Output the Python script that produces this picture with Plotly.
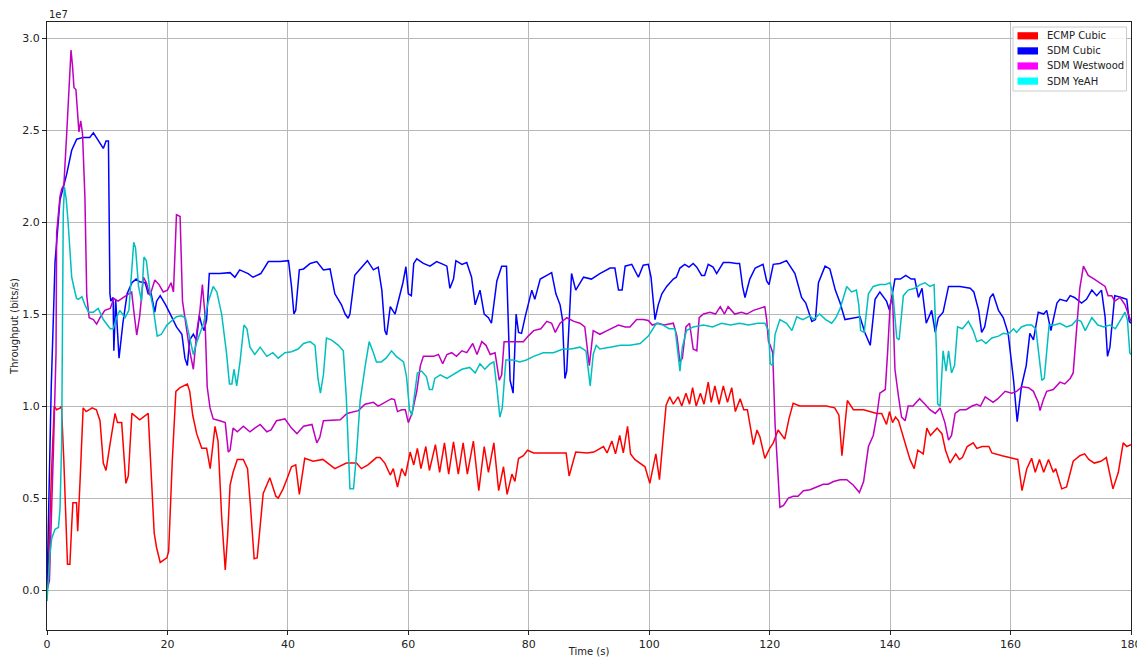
import plotly.graph_objects as go

# Throughput samples: (time in s, throughput in units of 1e7 bits/s)
ecmp_cubic = [
    (0, 0.0), (0.2, 0.07), (0.7, 0.6), (1.2, 1.0), (1.6, 0.98), (2.2, 0.99), (2.4, 1.0), (2.8, 0.7),
    (3.4, 0.14), (3.8, 0.14), (4.1, 0.35), (4.3, 0.475), (4.9, 0.475), (5.1, 0.32), (5.5, 0.6),
    (6.0, 0.99), (6.5, 0.97), (7.5, 0.99), (8.2, 0.98), (8.8, 0.92), (9.35, 0.69), (9.8, 0.65),
    (10.5, 0.8), (11.3, 0.96), (11.7, 0.91), (12.4, 0.91), (13.1, 0.58), (13.5, 0.62), (14.1, 0.96),
    (15.4, 0.925), (16.8, 0.96), (17.3, 0.6), (17.8, 0.31), (18.2, 0.23), (18.8, 0.15), (19.9, 0.175),
    (20.2, 0.21), (20.8, 0.7), (21.4, 1.08), (22.1, 1.1), (23.3, 1.12), (23.7, 1.08), (24.2, 0.95),
    (24.85, 0.85), (25.7, 0.77), (26.5, 0.77), (27.1, 0.66), (27.9, 0.89), (28.4, 0.81), (29.0, 0.4),
    (29.6, 0.11), (30.0, 0.3), (30.4, 0.57), (30.9, 0.64), (31.6, 0.71), (32.6, 0.71), (33.3, 0.66),
    (33.8, 0.45), (34.4, 0.17), (34.9, 0.175), (35.4, 0.35), (35.9, 0.525), (37.0, 0.61), (38.0, 0.51),
    (38.4, 0.50), (39.2, 0.55), (39.8, 0.6), (40.6, 0.67), (41.3, 0.68), (41.9, 0.52), (42.8, 0.716),
    (44.2, 0.70), (45.8, 0.71), (47.8, 0.66), (49.7, 0.69), (51.4, 0.69), (52.2, 0.66), (53.3, 0.68),
    (54.7, 0.72), (55.3, 0.72), (56.1, 0.69), (57.0, 0.625), (57.5, 0.66), (58.2, 0.56), (58.9, 0.66),
    (59.5, 0.62), (60.3, 0.75), (60.9, 0.68), (61.5, 0.77), (62.1, 0.66), (62.9, 0.78), (63.5, 0.65),
    (64.5, 0.79), (65.2, 0.64), (66.0, 0.80), (66.7, 0.63), (67.5, 0.805), (68.3, 0.63), (69.1, 0.80),
    (69.8, 0.63), (70.8, 0.81), (71.7, 0.54), (72.6, 0.78), (73.3, 0.64), (74.2, 0.80), (75.0, 0.54),
    (75.8, 0.67), (76.4, 0.52), (77.2, 0.63), (77.7, 0.59), (78.3, 0.715), (79.1, 0.73), (79.8, 0.76),
    (80.8, 0.745), (83.0, 0.745), (86.2, 0.745), (86.7, 0.62), (87.8, 0.75), (89.7, 0.745), (90.8, 0.75),
    (92.4, 0.78), (93.0, 0.745), (93.8, 0.81), (94.4, 0.74), (95.1, 0.84), (95.7, 0.745), (96.4, 0.89),
    (96.9, 0.74), (97.6, 0.71), (98.4, 0.69), (99.3, 0.67), (100.1, 0.58), (101.1, 0.74), (101.7, 0.60),
    (102.8, 1.005), (103.4, 1.05), (104.0, 1.01), (104.8, 1.05), (105.4, 1.0), (106.1, 1.07), (106.7, 1.01),
    (107.2, 1.10), (107.8, 1.0), (108.5, 1.07), (109.1, 1.01), (109.8, 1.13), (110.3, 1.02), (110.9, 1.11),
    (111.6, 1.01), (112.3, 1.11), (113.0, 1.02), (113.7, 1.10), (114.3, 0.97), (115.1, 1.04), (115.7, 0.98),
    (116.3, 0.98), (117.3, 0.79), (117.9, 0.87), (118.4, 0.83), (119.2, 0.716), (120.0, 0.77), (120.6, 0.80),
    (121.4, 0.87), (122.5, 0.82), (123.2, 0.93), (123.9, 1.015), (125.0, 1.0), (127.2, 1.0), (129.4, 1.0),
    (130.8, 0.99), (131.5, 0.95), (132.0, 0.73), (132.9, 1.03), (133.9, 0.98), (135.6, 0.98), (137.8, 0.96),
    (138.6, 0.96), (139.4, 0.90), (139.9, 0.97), (140.4, 0.91), (140.9, 0.94), (141.4, 0.92), (142.5, 0.79),
    (143.3, 0.71), (144.0, 0.66), (144.6, 0.76), (145.5, 0.74), (146.1, 0.88), (146.7, 0.84), (147.8, 0.88),
    (148.6, 0.85), (149.2, 0.76), (149.95, 0.69), (150.9, 0.74), (151.5, 0.71), (152.0, 0.72), (152.8, 0.78),
    (153.8, 0.80), (154.4, 0.77), (155.3, 0.78), (156.4, 0.78), (156.9, 0.745), (158.6, 0.73), (160.7, 0.716),
    (161.2, 0.71), (161.9, 0.54), (162.7, 0.66), (163.5, 0.716), (164.1, 0.64), (164.8, 0.71), (165.5, 0.64),
    (166.3, 0.71), (167.1, 0.64), (167.5, 0.66), (168.5, 0.55), (169.3, 0.56), (170.4, 0.70), (171.5, 0.73),
    (172.3, 0.74), (173.0, 0.71), (173.9, 0.69), (175.0, 0.70), (175.9, 0.72), (177.0, 0.55), (177.9, 0.64),
    (178.7, 0.80), (179.3, 0.78), (180.0, 0.79),
]

sdm_cubic = [
    (0, 0.0), (0.3, 0.5), (0.7, 1.1), (1.05, 1.47), (1.33, 1.78), (2.16, 2.12), (3.27, 2.26), (4.1, 2.39),
    (4.93, 2.45), (6.0, 2.46), (7.1, 2.46), (7.7, 2.485), (8.2, 2.46), (8.8, 2.43), (9.35, 2.40), (9.8, 2.44),
    (10.2, 2.44), (10.45, 1.61), (10.6, 1.57), (10.98, 1.59), (11.1, 1.30), (11.4, 1.58), (11.96, 1.26),
    (12.6, 1.45), (13.3, 1.61), (14.1, 1.67), (14.8, 1.69), (15.4, 1.675), (16.3, 1.67), (16.8, 1.61),
    (17.3, 1.61), (17.9, 1.51), (18.2, 1.57), (18.8, 1.60), (19.7, 1.55), (20.7, 1.485), (21.5, 1.43),
    (22.4, 1.39), (22.9, 1.26), (23.3, 1.22), (23.7, 1.36), (24.3, 1.39), (24.8, 1.36), (25.3, 1.49),
    (25.7, 1.44), (26.1, 1.41), (26.5, 1.47), (26.95, 1.72), (28.7, 1.72), (30.4, 1.725), (31.2, 1.70),
    (32.0, 1.74), (33.4, 1.72), (34.2, 1.70), (35.5, 1.72), (36.75, 1.785), (38.7, 1.785), (40.1, 1.79),
    (40.6, 1.65), (41.0, 1.50), (41.3, 1.52), (41.9, 1.74), (42.6, 1.745), (43.7, 1.775), (44.8, 1.785),
    (45.9, 1.74), (47.0, 1.745), (47.8, 1.61), (48.9, 1.55), (49.5, 1.50), (50.0, 1.477), (50.3, 1.50),
    (51.1, 1.71), (52.0, 1.745), (53.2, 1.79), (54.2, 1.74), (55.0, 1.755), (55.6, 1.63), (56.1, 1.41),
    (56.4, 1.386), (57.0, 1.54), (57.8, 1.50), (58.6, 1.60), (59.1, 1.67), (59.6, 1.757), (60.0, 1.61),
    (60.5, 1.60), (60.9, 1.775), (61.4, 1.80), (62.5, 1.775), (63.6, 1.76), (64.7, 1.785), (65.8, 1.77),
    (66.4, 1.76), (66.9, 1.64), (67.5, 1.69), (67.9, 1.79), (68.9, 1.77), (69.7, 1.78), (70.5, 1.70),
    (71.1, 1.55), (71.9, 1.63), (72.6, 1.50), (73.3, 1.48), (73.8, 1.45), (74.7, 1.68), (75.5, 1.76),
    (76.3, 1.76), (76.7, 1.35), (76.9, 1.14), (77.4, 1.07), (77.9, 1.50), (78.3, 1.40), (78.8, 1.395),
    (79.4, 1.485), (79.9, 1.55), (80.5, 1.63), (81.0, 1.58), (81.9, 1.69), (83.0, 1.71), (83.8, 1.725),
    (84.5, 1.61), (85.2, 1.55), (85.6, 1.47), (86.0, 1.15), (86.3, 1.19), (87.1, 1.72), (87.8, 1.63),
    (88.5, 1.67), (89.1, 1.70), (90.4, 1.69), (91.8, 1.72), (93.5, 1.75), (94.3, 1.75), (94.9, 1.63),
    (95.5, 1.63), (96.0, 1.76), (97.1, 1.77), (98.2, 1.70), (99.0, 1.765), (99.85, 1.77), (100.3, 1.70),
    (100.96, 1.47), (101.5, 1.55), (102.1, 1.61), (102.9, 1.65), (104.0, 1.69), (104.5, 1.70), (105.1, 1.75),
    (105.9, 1.77), (106.6, 1.755), (107.3, 1.775), (107.9, 1.755), (108.7, 1.71), (109.2, 1.71), (109.8, 1.77),
    (110.6, 1.755), (111.2, 1.72), (112.3, 1.78), (113.4, 1.78), (114.5, 1.775), (115.0, 1.775), (115.5, 1.65),
    (115.9, 1.59), (116.7, 1.69), (117.6, 1.75), (118.9, 1.77), (119.5, 1.68), (119.9, 1.66), (120.6, 1.77),
    (121.7, 1.775), (122.8, 1.79), (124.2, 1.72), (125.3, 1.59), (126.0, 1.56), (127.0, 1.46), (127.6, 1.47),
    (128.1, 1.67), (129.2, 1.76), (130.0, 1.745), (130.9, 1.63), (131.7, 1.56), (132.5, 1.47), (133.9, 1.48),
    (135.0, 1.485), (135.8, 1.40), (136.7, 1.33), (137.5, 1.58), (138.3, 1.62), (139.4, 1.57), (139.9, 1.52),
    (140.8, 1.69), (141.7, 1.69), (142.6, 1.71), (143.5, 1.69), (144.1, 1.69), (144.7, 1.59), (145.3, 1.64),
    (146.0, 1.45), (146.9, 1.52), (147.5, 1.40), (148.0, 1.48), (148.8, 1.51), (149.7, 1.65), (151.6, 1.65),
    (153.3, 1.64), (153.9, 1.62), (154.7, 1.52), (155.2, 1.40), (155.7, 1.43), (156.6, 1.59), (157.1, 1.61),
    (158.0, 1.52), (158.8, 1.48), (159.6, 1.395), (160.5, 1.14), (161.1, 0.915), (161.8, 1.105), (162.6, 1.22),
    (163.2, 1.395), (163.8, 1.36), (164.6, 1.51), (165.5, 1.50), (166.0, 1.52), (166.7, 1.41), (167.7, 1.56),
    (168.2, 1.58), (169.3, 1.57), (169.9, 1.60), (170.6, 1.59), (171.8, 1.56), (172.6, 1.58), (173.5, 1.63),
    (174.3, 1.60), (175.1, 1.63), (175.7, 1.485), (176.1, 1.27), (176.5, 1.32), (177.3, 1.60), (178.4, 1.59),
    (179.3, 1.58), (179.7, 1.46), (180.0, 1.45),
]

sdm_westwood = [
    (0, 0.0), (0.4, 0.05), (1.05, 0.74), (1.5, 1.29), (1.6, 1.94), (2.16, 2.14), (2.44, 2.18), (2.8, 2.2),
    (3.27, 2.48), (3.65, 2.77), (3.99, 2.935), (4.26, 2.84), (4.48, 2.73), (4.8, 2.72), (5.04, 2.61),
    (5.3, 2.49), (5.6, 2.55), (5.9, 2.48), (6.3, 2.13), (6.6, 1.6), (7.0, 1.48), (7.7, 1.47), (8.25, 1.445),
    (8.8, 1.48), (9.6, 1.52), (10.5, 1.53), (11.1, 1.585), (11.8, 1.57), (12.7, 1.59), (13.5, 1.61),
    (14.06, 1.62), (14.4, 1.52), (14.9, 1.386), (15.4, 1.49), (16.0, 1.70), (16.5, 1.67), (17.1, 1.60),
    (17.9, 1.685), (18.6, 1.66), (19.3, 1.62), (20.0, 1.63), (20.6, 1.67), (21.0, 1.62), (21.5, 2.04),
    (22.1, 2.03), (22.5, 1.57), (23.2, 1.41), (23.7, 1.30), (24.3, 1.20), (24.9, 1.41), (25.4, 1.52),
    (25.8, 1.66), (26.2, 1.51), (26.6, 1.105), (27.07, 0.99), (27.6, 0.93), (28.7, 0.92), (29.6, 0.91),
    (30.1, 0.75), (30.4, 0.76), (30.9, 0.88), (31.6, 0.86), (32.6, 0.89), (33.7, 0.86), (34.5, 0.88),
    (35.4, 0.90), (36.5, 0.86), (37.2, 0.87), (38.1, 0.92), (39.5, 0.93), (40.6, 0.88), (41.5, 0.85),
    (42.6, 0.89), (44.0, 0.90), (44.8, 0.80), (45.3, 0.83), (45.9, 0.92), (48.7, 0.925), (49.8, 0.96),
    (51.7, 0.975), (52.8, 1.01), (54.2, 1.02), (55.0, 1.00), (56.1, 1.02), (57.2, 1.04), (57.7, 1.035),
    (58.2, 0.97), (58.9, 0.98), (59.5, 0.98), (60.0, 0.91), (60.6, 0.96), (61.4, 1.08), (62.0, 1.22),
    (62.5, 1.27), (64.2, 1.27), (65.0, 1.28), (65.7, 1.23), (66.4, 1.28), (67.2, 1.29), (68.0, 1.27),
    (68.9, 1.30), (69.7, 1.29), (70.7, 1.34), (71.4, 1.28), (72.2, 1.35), (72.9, 1.33), (73.6, 1.28),
    (74.4, 1.29), (75.1, 1.14), (75.5, 1.17), (75.9, 1.35), (77.4, 1.35), (79.1, 1.35), (79.9, 1.38),
    (80.8, 1.41), (82.0, 1.42), (83.0, 1.46), (83.8, 1.45), (84.4, 1.40), (85.2, 1.45), (86.3, 1.48),
    (87.5, 1.46), (88.5, 1.45), (89.3, 1.43), (90.05, 1.22), (90.7, 1.41), (91.8, 1.39), (93.0, 1.41),
    (94.9, 1.44), (96.0, 1.43), (96.8, 1.43), (97.9, 1.47), (99.0, 1.47), (99.85, 1.465), (100.5, 1.44),
    (101.5, 1.45), (102.5, 1.44), (104.0, 1.45), (104.6, 1.38), (105.1, 1.24), (105.5, 1.26), (106.1, 1.43),
    (106.7, 1.45), (107.3, 1.31), (107.9, 1.30), (108.3, 1.48), (109.0, 1.50), (110.1, 1.51), (111.0, 1.50),
    (111.8, 1.54), (112.5, 1.50), (113.1, 1.54), (114.2, 1.50), (115.3, 1.51), (116.2, 1.50), (117.3, 1.52),
    (118.4, 1.53), (119.2, 1.54), (119.5, 1.47), (119.8, 1.35), (120.1, 1.33), (120.5, 1.29), (120.9, 0.90),
    (121.3, 0.65), (121.7, 0.45), (122.3, 0.46), (123.1, 0.50), (123.9, 0.51), (124.7, 0.51), (125.6, 0.54),
    (126.7, 0.545), (127.8, 0.56), (128.9, 0.575), (129.7, 0.575), (130.6, 0.59), (131.7, 0.60), (132.8, 0.60),
    (133.9, 0.57), (134.9, 0.53), (135.6, 0.59), (136.4, 0.78), (137.2, 0.84), (137.8, 0.95), (138.3, 1.07),
    (139.2, 1.09), (139.6, 1.3), (140.0, 1.55), (140.4, 1.60), (140.8, 1.2), (141.4, 1.05), (141.9, 0.94),
    (142.5, 0.92), (143.0, 1.0), (143.8, 1.0), (144.9, 1.04), (145.8, 1.01), (146.6, 0.98), (147.5, 0.96),
    (148.3, 0.99), (149.1, 0.91), (149.7, 0.815), (150.2, 0.84), (150.8, 0.96), (151.6, 0.98), (152.6, 0.98),
    (153.6, 1.0), (154.4, 1.01), (155.0, 1.0), (155.8, 1.05), (157.1, 1.02), (157.9, 1.04), (159.1, 1.08),
    (160.2, 1.07), (161.0, 1.08), (161.9, 1.105), (163.0, 1.10), (163.8, 1.08), (164.6, 1.02), (164.9, 0.975),
    (165.4, 1.03), (166.0, 1.08), (167.1, 1.09), (168.2, 1.13), (169.0, 1.12), (169.9, 1.15), (170.4, 1.18),
    (170.9, 1.4), (171.3, 1.56), (171.5, 1.64), (172.1, 1.76), (172.9, 1.71), (173.9, 1.69), (174.9, 1.67),
    (175.7, 1.65), (176.2, 1.60), (176.8, 1.60), (177.3, 1.57), (178.2, 1.59), (179.0, 1.55), (179.6, 1.49),
    (180.0, 1.46),
]

sdm_yeah = [
    (0, -0.06), (0.5, 0.2), (0.78, 0.28), (1.33, 0.33), (1.9, 0.34), (2.16, 0.44), (2.44, 0.81), (2.6, 1.5),
    (2.7, 2.05), (2.9, 2.19), (3.2, 2.12), (3.5, 2.0), (3.8, 1.85), (4.1, 1.70), (4.5, 1.64), (4.9, 1.585),
    (5.2, 1.58), (5.8, 1.594), (6.3, 1.55), (6.9, 1.51), (7.7, 1.51), (8.5, 1.53), (9.35, 1.47), (10.5, 1.42),
    (11.0, 1.42), (11.6, 1.485), (12.1, 1.52), (12.95, 1.48), (13.6, 1.52), (14.4, 1.89), (14.7, 1.86),
    (15.2, 1.65), (15.7, 1.57), (16.1, 1.81), (16.5, 1.79), (17.1, 1.62), (17.65, 1.53), (18.3, 1.38),
    (19.0, 1.39), (19.9, 1.44), (20.6, 1.46), (21.5, 1.485), (22.3, 1.49), (23.0, 1.48), (23.5, 1.40),
    (24.3, 1.28), (24.9, 1.35), (26.0, 1.45), (26.8, 1.57), (27.6, 1.65), (28.2, 1.62), (29.0, 1.50),
    (29.8, 1.29), (30.3, 1.12), (30.7, 1.12), (31.05, 1.20), (31.5, 1.11), (32.05, 1.24), (32.7, 1.44),
    (33.2, 1.42), (33.7, 1.32), (34.5, 1.28), (35.4, 1.32), (36.5, 1.27), (37.5, 1.29), (38.4, 1.26),
    (39.5, 1.29), (40.6, 1.295), (41.7, 1.31), (42.6, 1.34), (43.7, 1.35), (44.5, 1.33), (45.0, 1.15),
    (45.4, 1.07), (45.9, 1.17), (46.4, 1.37), (47.2, 1.36), (48.4, 1.33), (49.2, 1.30), (49.7, 1.05),
    (50.3, 0.55), (50.9, 0.55), (51.4, 0.74), (52.0, 1.03), (52.8, 1.21), (53.5, 1.35), (54.2, 1.29),
    (54.7, 1.24), (55.5, 1.24), (56.3, 1.26), (57.2, 1.30), (58.0, 1.27), (59.2, 1.24), (59.7, 1.16),
    (60.2, 0.98), (60.6, 0.95), (61.1, 1.08), (61.5, 1.18), (62.2, 1.19), (63.0, 1.16), (63.5, 1.09),
    (64.0, 1.09), (64.4, 1.15), (65.3, 1.17), (66.4, 1.15), (67.5, 1.17), (68.9, 1.20), (70.2, 1.21),
    (71.1, 1.18), (71.9, 1.23), (72.7, 1.20), (73.6, 1.23), (74.2, 1.24), (74.7, 1.10), (75.2, 0.94),
    (75.6, 0.99), (76.2, 1.25), (77.4, 1.25), (78.5, 1.24), (79.6, 1.25), (80.8, 1.27), (82.4, 1.29),
    (84.1, 1.29), (85.7, 1.31), (87.0, 1.31), (88.5, 1.32), (89.5, 1.30), (90.2, 1.11), (90.7, 1.28),
    (91.2, 1.33), (91.8, 1.31), (93.5, 1.32), (95.2, 1.33), (96.8, 1.33), (98.5, 1.34), (99.85, 1.38),
    (100.6, 1.42), (101.2, 1.45), (102.3, 1.44), (103.3, 1.42), (104.3, 1.42), (104.8, 1.28), (105.1, 1.19),
    (105.5, 1.32), (106.2, 1.41), (107.3, 1.43), (109.0, 1.44), (110.5, 1.43), (112.0, 1.45), (113.5, 1.44),
    (115.0, 1.45), (116.5, 1.44), (118.0, 1.45), (119.2, 1.45), (119.8, 1.41), (120.1, 1.23), (120.5, 1.22),
    (120.9, 1.39), (121.7, 1.47), (122.8, 1.45), (123.7, 1.41), (124.5, 1.485), (125.5, 1.47), (126.7, 1.49),
    (127.3, 1.47), (128.3, 1.50), (129.3, 1.47), (130.3, 1.45), (131.0, 1.48), (131.7, 1.53), (132.8, 1.65),
    (133.6, 1.62), (134.4, 1.63), (134.8, 1.55), (135.1, 1.41), (135.7, 1.40), (136.4, 1.61), (137.2, 1.65),
    (138.3, 1.66), (139.2, 1.66), (140.0, 1.67), (140.5, 1.60), (141.1, 1.37), (141.5, 1.36), (142.2, 1.60),
    (143.0, 1.63), (144.1, 1.64), (145.0, 1.66), (145.8, 1.67), (146.6, 1.65), (147.3, 1.66), (147.7, 1.30),
    (147.9, 1.01), (148.3, 1.0), (148.5, 1.1), (148.8, 1.30), (149.3, 1.19), (149.7, 1.30), (150.2, 1.18),
    (150.7, 1.22), (151.2, 1.43), (152.0, 1.42), (153.0, 1.46), (153.8, 1.41), (154.4, 1.35), (155.2, 1.36),
    (155.9, 1.34), (156.9, 1.37), (158.0, 1.38), (158.8, 1.395), (159.6, 1.39), (160.5, 1.42), (161.0, 1.40),
    (161.8, 1.43), (162.7, 1.44), (163.5, 1.44), (164.2, 1.42), (164.8, 1.25), (165.2, 1.14), (165.6, 1.15),
    (166.0, 1.32), (166.4, 1.44), (167.3, 1.44), (168.2, 1.45), (169.3, 1.43), (170.2, 1.44), (171.0, 1.47),
    (171.7, 1.46), (172.4, 1.41), (173.5, 1.48), (174.5, 1.44), (175.5, 1.43), (176.5, 1.44), (177.4, 1.42),
    (178.5, 1.48), (179.0, 1.51), (179.4, 1.47), (179.8, 1.29), (180.0, 1.28),
]

series_names = ["ECMP Cubic", "SDM Cubic", "SDM Westwood", "SDM YeAH"]
line_colors = ["#ff0000", "#0000ff", "#bf00bf", "#00bfbf"]
legend_colors = ["#ff0000", "#0000ff", "#ff00ff", "#00ffff"]
y_ticks = [0.0, 0.5, 1.0, 1.5, 2.0, 2.5, 3.0]
x_ticks = [0, 20, 40, 60, 80, 100, 120, 140, 160, 180]
SCALE = 1e7

# figure geometry (pixels)
W, H = 1137, 657
ML, MR, MT, MB = 47, 6, 22, 27
PW, PH = W - ML - MR, H - MT - MB


def px_x(p):
    return (p - ML) / PW


def px_y(p):
    return (H - MB - p) / PH


fig = go.Figure()
for name, data, col in zip(series_names, [ecmp_cubic, sdm_cubic, sdm_westwood, sdm_yeah], line_colors):
    fig.add_trace(go.Scatter(
        x=[p[0] for p in data], y=[p[1] * SCALE for p in data], mode="lines",
        line=dict(color=col, width=1.5), name=name, showlegend=False,
    ))

# legend box drawn like the matplotlib legend (patch handles)
shapes = [dict(
    type="rect", xref="paper", yref="paper", layer="above",
    x0=px_x(1013), x1=px_x(1126.5), y0=px_y(91), y1=px_y(27),
    fillcolor="rgba(255,255,255,0.85)", line=dict(color="#cccccc", width=1),
)]
annotations = [dict(
    text="1e7", x=0, y=1, xref="paper", yref="paper", xanchor="left", yanchor="bottom",
    showarrow=False, font=dict(family="DejaVu Sans", size=10, color="#222222"),
)]
for i, (name, col) in enumerate(zip(series_names, legend_colors)):
    cy = 35.8 + 15.1 * i
    shapes.append(dict(
        type="rect", xref="paper", yref="paper", layer="above",
        x0=px_x(1017.5), x1=px_x(1038), y0=px_y(cy + 3.6), y1=px_y(cy - 3.6),
        fillcolor=col, line=dict(width=0),
    ))
    annotations.append(dict(
        text=name, x=px_x(1045), y=px_y(cy), xref="paper", yref="paper",
        xanchor="left", yanchor="middle", showarrow=False,
        font=dict(family="DejaVu Sans", size=10, color="#222222"),
    ))

axis_font = dict(family="DejaVu Sans", size=11, color="#222222")
fig.update_layout(
    width=W, height=H,
    margin=dict(l=ML, r=MR, t=MT, b=MB, autoexpand=False),
    paper_bgcolor="white", plot_bgcolor="white",
    font=dict(family="DejaVu Sans", size=11, color="#222222"),
    showlegend=False,
    xaxis=dict(
        range=[0, 180], tickvals=x_ticks, ticktext=[str(v) for v in x_ticks],
        showgrid=True, gridcolor="#b8b8b8", gridwidth=1,
        showline=True, linecolor="#222222", linewidth=1, mirror=True,
        ticks="outside", ticklen=4, tickcolor="#222222", tickfont=axis_font,
        ticklabeloverflow="allow",
        zeroline=False,
        title=dict(text="Time (s)", font=dict(family="DejaVu Sans", size=10, color="#222222"), standoff=0),
        automargin=False,
    ),
    yaxis=dict(
        range=[-0.217 * SCALE, 3.087 * SCALE],
        tickvals=[v * SCALE for v in y_ticks], ticktext=["%.1f" % v for v in y_ticks],
        showgrid=True, gridcolor="#b8b8b8", gridwidth=1,
        showline=True, linecolor="#222222", linewidth=1, mirror=True,
        ticks="outside", ticklen=4, tickcolor="#222222", tickfont=axis_font,
        zeroline=False,
        title=dict(text="Throughput (bits/s)", font=dict(family="DejaVu Sans", size=10, color="#222222"), standoff=1),
        automargin=False,
    ),
    shapes=shapes,
    annotations=annotations,
)

fig.write_html(
    "out.html",
    config={"displayModeBar": False},
    post_script="document.body.style.margin='0';document.body.style.overflow='hidden';",
)
